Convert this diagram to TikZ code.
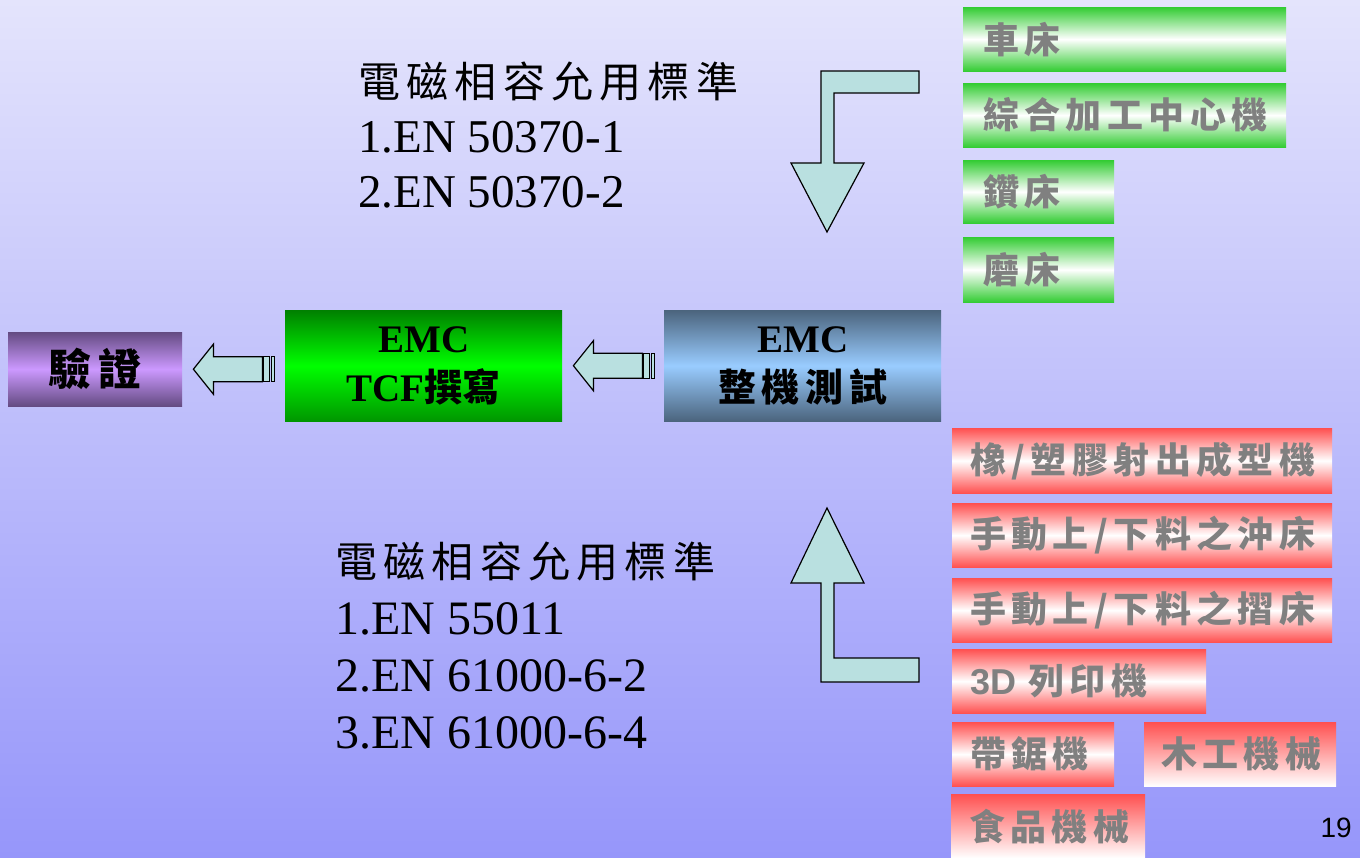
\documentclass[tikz,border=0pt]{standalone}
\usepackage{fontspec}
\setmainfont{Liberation Serif}
\setsansfont{Liberation Sans}
\newfontfamily\cjk[LetterSpace=15]{Noto Sans CJK TC}
\newfontfamily\cjkn{Noto Sans CJK TC}
\definecolor{bgtop}{RGB}{228,228,252}
\definecolor{bgbot}{RGB}{150,150,250}
\definecolor{arrfill}{RGB}{185,224,224}
\definecolor{gboxc}{RGB}{51,204,51}
\definecolor{rboxc}{RGB}{255,80,80}
\definecolor{txtgray}{RGB}{128,128,128}
\definecolor{vdark}{RGB}{100,75,130}
\definecolor{vlight}{RGB}{204,153,255}
\definecolor{tdark}{RGB}{0,128,0}
\definecolor{tlight}{RGB}{0,255,0}
\definecolor{tbot}{RGB}{0,150,0}
\definecolor{edark}{RGB}{75,100,125}
\definecolor{elight}{RGB}{153,204,255}
\newcommand\stripedarrow[1]{%
  \draw[arr] #1 -- ++(20,-25) -- ++(0,12.5) -- ++(49,0) -- ++(0,25) -- ++(-49,0) -- ++(0,12.5) -- cycle;
  \draw[arr] #1 ++(70,-12.5) rectangle ++(6,25);
  \draw[arr] #1 ++(78,-12.5) rectangle ++(3,25);
}
\begin{document}
\begin{tikzpicture}[x=1pt,y=-1pt,
  arr/.style={draw=black, line width=1.2pt, fill=arrfill, line join=miter},
  labelbox/.style={anchor=north west, inner xsep=20pt, inner ysep=0pt, align=left,
    font=\cjk\bfseries\fontsize{36}{40}\selectfont, text=txtgray},
  gbox/.style={labelbox, top color=gboxc, bottom color=gboxc, middle color=white},
  rbox/.style={labelbox, inner xsep=18pt, top color=rboxc, bottom color=rboxc, middle color=white},
  rboxw/.style={labelbox, top color=rboxc, bottom color=white},
  bigbox/.style={anchor=north west, inner sep=0pt, align=center, text=black,
    font=\bfseries\fontsize{39}{49}\selectfont},
  stdtext/.style={anchor=base west, inner sep=0pt, align=left, text=black}
]
\useasboundingbox (0,0) rectangle (1360,857);
\shade[top color=bgtop, bottom color=bgbot] (0,0) rectangle (1360,857);

% standards texts (anchor = baseline of last line)
\node[stdtext, font=\fontsize{47}{55}\selectfont] (std1) at (358,207)
  {{\cjk\fontsize{42}{55}\selectfont 電磁相容允用標準}\\1.EN 50370-1\\2.EN 50370-2};
\node[stdtext, font=\fontsize{48}{57}\selectfont] (std2) at (335,748)
  {{\cjk\fontsize{42}{57}\selectfont 電磁相容允用標準}\\1.EN 55011\\2.EN 61000-6-2\\3.EN 61000-6-4};

% main boxes
\node[bigbox, minimum width=174pt, minimum height=74pt,
  top color=vdark, bottom color=vdark, middle color=vlight,
  font=\cjk\bfseries\fontsize{43}{48}\selectfont] (verify) at (8,332) {驗證};
\node[bigbox, minimum width=277pt, minimum height=111pt,
  top color=tdark, bottom color=tbot, middle color=tlight] (tcf) at (285,310)
  {EMC\\TCF{\cjkn\bfseries\fontsize{38}{48}\selectfont 撰寫}};
\node[bigbox, minimum width=277pt, minimum height=111pt,
  top color=edark, bottom color=edark, middle color=elight] (test) at (664,310)
  {EMC\\{\cjk\bfseries\fontsize{38}{48}\selectfont 整機測試}};

% striped arrows
\stripedarrow{([xshift=11pt]verify.east)}
\stripedarrow{([xshift=11pt]tcf.east)}

% green boxes
\node[gbox, text width=283pt, minimum height=64pt] (g1) at (963,7) {車床};
\node[gbox, text width=283pt, minimum height=64pt] (g2) at (963,83) {綜合加工中心機};
\node[gbox, text width=111pt, minimum height=63pt] (g3) at (963,160) {鑽床};
\node[gbox, text width=111pt, minimum height=65pt] (g4) at (963,237) {磨床};

% red boxes
\node[rbox, text width=344pt, minimum height=65pt] (r1) at (952,428) {橡/塑膠射出成型機};
\node[rbox, text width=344pt, minimum height=64pt] (r2) at (952,503) {手動上/下料之沖床};
\node[rbox, text width=344pt, minimum height=64pt] (r3) at (952,578) {手動上/下料之摺床};
\node[rbox, text width=218pt, minimum height=64pt] (r4) at (952,649)
  {{\sffamily\bfseries\fontsize{36}{40}\selectfont 3D} 列印機};
\node[rbox, text width=126pt, minimum height=64pt] (r5) at (952,722) {帶鋸機};
\node[rboxw, inner xsep=17pt, text width=158pt, minimum height=64pt] (r6) at (1144,722) {木工機械};
\node[rboxw, inner xsep=18pt, text width=158pt, minimum height=64pt] (r7) at (951,794) {食品機械};

% bent arrows
\draw[arr] (821,71) -- (919,71) -- (919,93) -- (834,93) -- (834,163) -- (864,163)
  -- (827,232) -- (791,163) -- (821,163) -- cycle;
\draw[arr] (827,508) -- (864,583) -- (834,583) -- (834,658) -- (919,658) -- (919,682)
  -- (821,682) -- (821,583) -- (791,583) -- cycle;

% page number
\node[anchor=base east, inner sep=0pt, font=\sffamily\fontsize{28}{30}\selectfont] (pnum) at (1352,837) {19};
\end{tikzpicture}
\end{document}
